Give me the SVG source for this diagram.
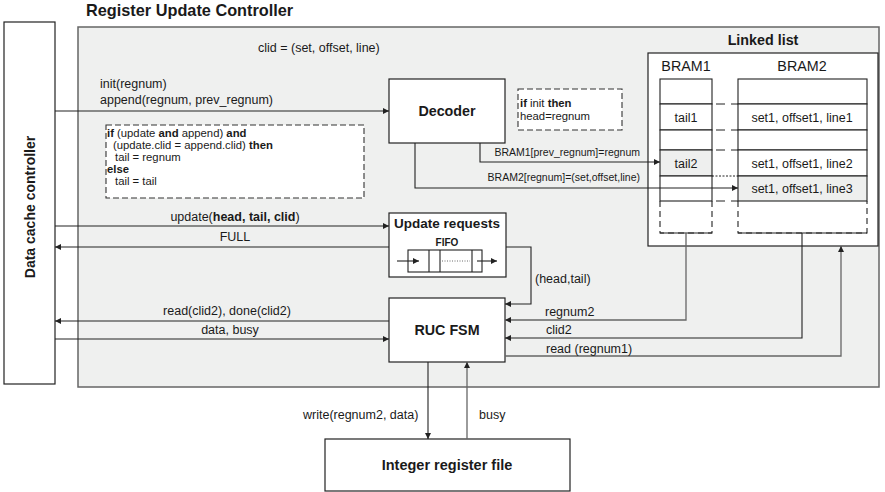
<svg xmlns="http://www.w3.org/2000/svg" width="885" height="492" viewBox="0 0 885 492">
<style>
text{font-family:"Liberation Sans",Arial,sans-serif;fill:#1a1a1a}
.b{font-weight:bold}
.t12{font-size:12.5px}
.tc{font-size:11.3px}
.t10{font-size:10.5px}
.t14{font-size:14.3px}
.box{fill:#fff;stroke:#222;stroke-width:1.2}
.ln{fill:none;stroke:#222;stroke-width:1.1}
.gl{fill:none;stroke:#666;stroke-width:1.3}
.dash{fill:#fff;stroke:#333;stroke-width:1.1;stroke-dasharray:6,3}
.cell{fill:#fff;stroke:#222;stroke-width:1.1}
.gc{fill:#eeefee;stroke:#222;stroke-width:1.1}
</style>
<defs>
<marker id="a" viewBox="0 0 10 10" refX="10" refY="5" markerWidth="9" markerHeight="6" orient="auto" markerUnits="userSpaceOnUse"><path d="M0,0 L10,5 L0,10z" fill="#222"/></marker>
</defs>
<rect width="885" height="492" fill="#fff"/>
<text x="86" y="16" class="b" font-size="16.3px">Register Update Controller</text>
<g id="ruc">
<rect x="78" y="27" width="801" height="360" fill="#eff0ef" stroke="#666" stroke-width="1.5"/>
</g>
<g id="dcc">
<rect x="4" y="22" width="51" height="362" class="box"/>
<text transform="translate(35,207) rotate(-90)" text-anchor="middle" class="b" font-size="14px">Data cache controller</text>
</g>
<text x="258" y="52" class="t12">clid = (set, offset, line)</text>
<text x="100" y="88" class="t12">init(regnum)</text>
<text x="100" y="104" class="t12">append(regnum, prev_regnum)</text>
<g id="codebox">
<rect x="106" y="125" width="258" height="73" class="dash"/>
<text x="107" y="137" class="tc"><tspan class="b">if</tspan> (update <tspan class="b">and</tspan> append) <tspan class="b">and</tspan></text>
<text x="113" y="149" class="tc">(update.clid = append.clid) <tspan class="b">then</tspan></text>
<text x="115" y="161" class="tc">tail = regnum</text>
<text x="107" y="173" class="tc b">else</text>
<text x="115" y="185" class="tc">tail = tail</text>
</g>
<g id="decoder">
<rect x="389" y="79" width="116" height="64" class="box"/>
<text x="447" y="116" text-anchor="middle" class="t14 b">Decoder</text>
</g>
<g id="initbox">
<rect x="518" y="89" width="104" height="41" class="dash" stroke-dasharray="4,2.5"/>
<text x="520" y="107" class="tc"><tspan class="b">if</tspan> init <tspan class="b">then</tspan></text>
<text x="520" y="120" class="tc">head=regnum</text>
</g>
<g id="linkedlist">
<text x="763" y="45" text-anchor="middle" class="b" font-size="14.3px">Linked list</text>
<rect x="648" y="53" width="230" height="193" class="box"/>
<text x="686" y="71" text-anchor="middle" class="t14">BRAM1</text>
<text x="802" y="71" text-anchor="middle" class="t14">BRAM2</text>
<rect x="660" y="79" width="52" height="25" class="cell"/>
<rect x="660" y="104" width="52" height="26" class="cell"/>
<rect x="660" y="130" width="52" height="20" class="cell"/>
<rect x="660" y="150" width="52" height="26" class="gc"/>
<rect x="660" y="176" width="52" height="25" class="cell"/>
<rect x="738" y="79" width="129" height="25" class="cell"/>
<rect x="738" y="104" width="129" height="26" class="cell"/>
<rect x="738" y="130" width="129" height="20" class="cell"/>
<rect x="738" y="150" width="129" height="26" class="cell"/>
<rect x="738" y="176" width="129" height="25" class="gc"/>
<path d="M660,201 V233 H712 V201 M738,201 V233 H867 V201" fill="none" stroke="#222" stroke-width="1.1" stroke-dasharray="6,4"/>
<path d="M660,233 H712 M738,233 H867" stroke="#222" stroke-width="1.1"/>
<path d="M712,104 H738 M712,130 H738 M712,150 H738 M712,201 H738" stroke="#222" stroke-width="1.1" stroke-dasharray="9,6" stroke-dashoffset="-4"/>
<path d="M712,176 H738" stroke="#222" stroke-width="1" stroke-dasharray="2,1.5"/>
<text x="686" y="122" text-anchor="middle" class="t12">tail1</text>
<text x="686" y="168" text-anchor="middle" class="t12">tail2</text>
<text x="802" y="122" text-anchor="middle" class="t12">set1, offset1, line1</text>
<text x="802" y="168" text-anchor="middle" class="t12">set1, offset1, line2</text>
<text x="802" y="193" text-anchor="middle" class="t12">set1, offset1, line3</text>
</g>
<g id="updreq">
<rect x="389" y="213" width="117" height="64" class="box"/>
<text x="447" y="228" text-anchor="middle" class="b" font-size="13.5px">Update requests</text>
<text x="447" y="246" text-anchor="middle" class="b" font-size="10px">FIFO</text>
<rect x="408" y="250" width="74" height="22" fill="#fff" stroke="#222" stroke-width="1.1"/>
<path d="M429,250 V272 M440,250 V272 M472,250 V272" stroke="#222" stroke-width="1.1"/>
<path d="M442,261 H470" stroke="#444" stroke-width="0.8" stroke-dasharray="1,1.5"/>
<path d="M397,261 H419" class="ln" marker-end="url(#a)"/>
<path d="M477,261 H497" class="ln" marker-end="url(#a)"/>
</g>
<g id="fsm">
<rect x="389" y="298" width="116" height="64" class="box"/>
<text x="447" y="335" text-anchor="middle" class="t14 b">RUC FSM</text>
</g>
<g id="irf">
<rect x="325" y="439" width="245" height="52" class="box"/>
<text x="447" y="470" text-anchor="middle" class="b" font-size="14.5px">Integer register file</text>
</g>
<g id="connectors">
<path d="M55,111 H389" class="ln" marker-end="url(#a)"/>
<path d="M480,143 V162 H660" class="ln" marker-end="url(#a)"/>
<path d="M415,143 V188 H738" class="ln" marker-end="url(#a)"/>
<path d="M55,226 H389" class="ln" marker-end="url(#a)"/>
<path d="M389,247 H55" class="ln" marker-end="url(#a)"/>
<path d="M506,247 H531 V304 H505" class="ln" marker-end="url(#a)"/>
<path d="M389,321 H55" class="ln" marker-end="url(#a)"/>
<path d="M55,339 H389" class="ln" marker-end="url(#a)"/>
<path d="M686,233 V320 H505" class="gl" marker-end="url(#a)"/>
<path d="M802,233 V338 H505" class="ln" marker-end="url(#a)"/>
<path d="M505,356 H841 V246" class="gl" marker-end="url(#a)"/>
<path d="M428,362 V439" class="ln" marker-end="url(#a)"/>
<path d="M467,439 V362" class="gl" marker-end="url(#a)"/>
</g>
<g id="labels">
<text x="640" y="156" text-anchor="end" class="t10">BRAM1[prev_regnum]=regnum</text>
<text x="640" y="181" text-anchor="end" class="t10">BRAM2[regnum]=(set,offset,line)</text>
<text x="235" y="221" text-anchor="middle" class="t12">update(<tspan class="b">head, tail, clid</tspan>)</text>
<text x="235" y="241" text-anchor="middle" class="t12">FULL</text>
<text x="535" y="283" class="t12">(head,tail)</text>
<text x="227" y="315" text-anchor="middle" class="t12">read(clid2), done(clid2)</text>
<text x="230" y="334" text-anchor="middle" class="t12">data, busy</text>
<text x="545" y="316" class="t12">regnum2</text>
<text x="546" y="334" class="t12">clid2</text>
<text x="546" y="353" class="t12">read (regnum1)</text>
<text x="303" y="419" class="t12">write(regnum2, data)</text>
<text x="479" y="419" class="t12">busy</text>
</g>
</svg>
